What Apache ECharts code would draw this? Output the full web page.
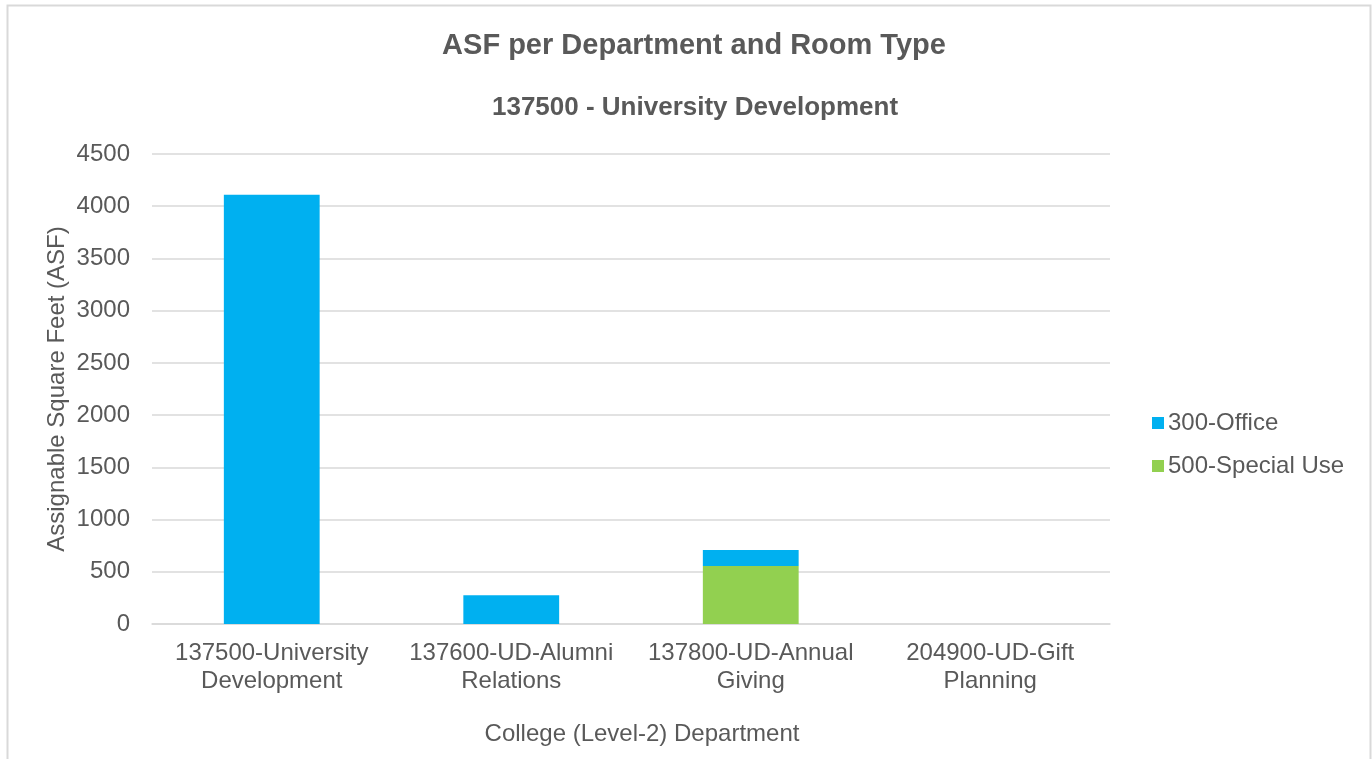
<!DOCTYPE html>
<html>
<head>
<meta charset="utf-8">
<title>ASF per Department and Room Type</title>
<script src="https://cdn.jsdelivr.net/npm/echarts@6/dist/echarts.min.js"></script>
<style>
  html, body { margin: 0; padding: 0; background: #fff; }
  #chart { width: 1372px; height: 759px; }
</style>
</head>
<body>
<div id="chart"></div>
<script>
// data
const departments = [
  '137500-University\nDevelopment',
  '137600-UD-Alumni\nRelations',
  '137800-UD-Annual\nGiving',
  '204900-UD-Gift\nPlanning'
]
const specialUse = [0, 0, 555, 0]      // 500-Special Use (bottom of stack)
const office = [4110, 275, 153, 0]     // 300-Office
const yTicks = [0, 500, 1000, 1500, 2000, 2500, 3000, 3500, 4000, 4500]

const textColor = '#595959'
const font = '"Liberation Sans", Arial, sans-serif'

const chart = echarts.init(document.getElementById('chart'))
chart.setOption({
  animation: false,
  textStyle: { fontFamily: font },
  graphic: [{
    type: 'rect',
    shape: { x: 7.5, y: 5.5, width: 1363, height: 800 },
    style: { fill: 'none', stroke: '#d9d9d9', lineWidth: 2 },
    silent: true
  }],
  title: [{
    text: 'ASF per Department and Room Type',
    left: 689, top: 26, textAlign: 'center',
    textStyle: { fontFamily: font, fontSize: 29, fontWeight: 'bold', color: textColor }
  }, {
    text: '137500 - University Development',
    left: 690, top: 90, textAlign: 'center',
    textStyle: { fontFamily: font, fontSize: 26, fontWeight: 'bold', color: textColor }
  }],
  legend: {
    data: ['300-Office', '500-Special Use'],
    orient: 'vertical',
    left: 1147, top: 406,
    itemWidth: 12, itemHeight: 12, itemGap: 19,
    icon: 'rect',
    textStyle: { fontFamily: font, fontSize: 24, color: textColor, padding: [0, 0, 0, -1] }
  },
  grid: { left: 152, right: 262, top: 154, bottom: 135 },
  xAxis: {
    type: 'category',
    data: departments,
    name: 'College (Level-2) Department',
    nameLocation: 'middle',
    nameGap: 98,
    nameTextStyle: { fontFamily: font, fontSize: 24, color: textColor, padding: [0, 0, 0, 22] },
    axisLine: { lineStyle: { color: '#d9d9d9', width: 1.5 } },
    axisTick: { show: false },
    axisLabel: { fontFamily: font, fontSize: 24, color: textColor, lineHeight: 28, margin: 15, interval: 0 }
  },
  yAxis: {
    type: 'value',
    min: yTicks[0],
    max: yTicks[yTicks.length - 1],
    interval: 500,
    name: 'Assignable Square Feet (ASF)',
    nameLocation: 'middle',
    nameGap: 83,
    nameMoveOverlap: false,
    nameTextStyle: { fontFamily: font, fontSize: 24, color: textColor },
    axisLine: { show: false },
    axisTick: { show: false },
    axisLabel: { fontFamily: font, fontSize: 24, color: textColor, margin: 22, formatter: v => String(v) },
    splitLine: { lineStyle: { color: '#d9d9d9', width: 1.5 } }
  },
  series: [{
    name: '500-Special Use',
    type: 'bar',
    stack: 'asf',
    data: specialUse,
    barWidth: '40%',
    itemStyle: { color: '#92D050' }
  }, {
    name: '300-Office',
    type: 'bar',
    stack: 'asf',
    data: office,
    barWidth: '40%',
    itemStyle: { color: '#00B0F0' }
  }]
})
</script>
</body>
</html>
